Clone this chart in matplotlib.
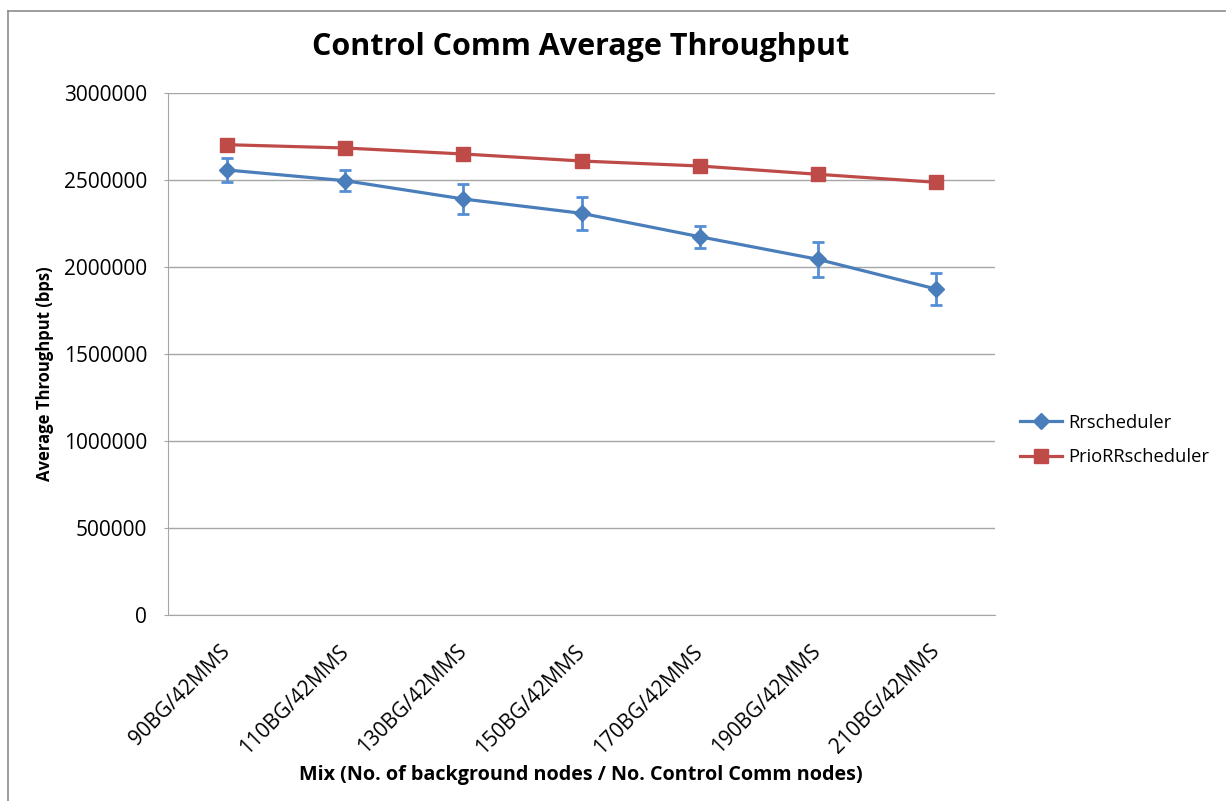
import matplotlib
matplotlib.use('Agg')
from matplotlib import pyplot as plt
from matplotlib.lines import Line2D

categories = ['90BG/42MMS', '110BG/42MMS', '130BG/42MMS', '150BG/42MMS',
              '170BG/42MMS', '190BG/42MMS', '210BG/42MMS']
rr_values = [2557500, 2496000, 2390800, 2308600, 2174100, 2044300, 1873600]
rr_errors = [71800, 61500, 84500, 93700, 63200, 100600, 90800]
prio_values = [2702900, 2683900, 2649400, 2609200, 2580500, 2532800, 2486800]
y_ticks = [0, 500000, 1000000, 1500000, 2000000, 2500000, 3000000]

blue = '#4A7EBB'
red = '#BE4B48'
grid_color = '#A6A6A6'

plt.rcParams['font.family'] = ['Open Sans', 'DejaVu Sans']

fig = plt.figure(figsize=(12.26, 8.01), dpi=100)
ax = fig.add_axes([168 / 1226, 1 - 615 / 801, (995 - 168) / 1226, (615 - 93) / 801])

x = list(range(len(categories)))
ax.errorbar(x, rr_values, yerr=rr_errors, fmt='none', ecolor='#558ED5',
            elinewidth=2, capsize=4, capthick=2, zorder=3)
rr_line, = ax.plot(x, rr_values, color=blue, lw=2.3, marker='D',
                   markersize=8, label='Rrscheduler', zorder=4)
prio_line, = ax.plot(x, prio_values, color=red, lw=2.3, marker='s',
                     markersize=9.5, label='PrioRRscheduler', zorder=4)

ax.set_xlim(-0.5, len(categories) - 0.5)
ax.set_ylim(0, 3000000)
ax.set_yticks(y_ticks)
ax.set_yticklabels([str(v) for v in y_ticks], fontsize=15)
ax.yaxis.grid(True, color=grid_color, lw=1)
ax.set_axisbelow(True)
ax.tick_params(axis='y', length=3, color=grid_color, pad=12)
ax.tick_params(axis='x', length=0, pad=24)
ax.set_xticks(x)
ax.set_xticklabels(categories, rotation=45, ha='right', va='center',
                   rotation_mode='anchor', fontsize=15)
for side in ['top', 'right']:
    ax.spines[side].set_visible(False)
for side in ['left', 'bottom']:
    ax.spines[side].set_color(grid_color)

fig.text(581 / 1226, 1 - 47 / 801, 'Control Comm Average Throughput',
         fontsize=22, fontweight='bold', ha='center', va='center')
fig.text(45 / 1226, 1 - 374 / 801, 'Average Throughput (bps)', rotation=90,
         fontsize=12, fontweight='bold', ha='center', va='center')
fig.text(581 / 1226, 1 - 775 / 801,
         'Mix (No. of background nodes / No. Control Comm nodes)',
         fontsize=14.2, fontweight='bold', ha='center', va='center')

fig.legend(handles=[rr_line, prio_line], loc='center left',
           bbox_to_anchor=(1020 / 1226, 1 - 440 / 801),
           frameon=False, fontsize=13.2, handlelength=2.3, labelspacing=0.9,
           handletextpad=0.33, borderpad=0, borderaxespad=0)

# chart border, only top and left edges are visible in the crop
fig.add_artist(Line2D([8 / 1226, 8 / 1226], [0, 1 - 11 / 801],
                      transform=fig.transFigure, color='#8C8C8C', lw=1.2))
fig.add_artist(Line2D([8 / 1226, 1], [1 - 11 / 801, 1 - 11 / 801],
                      transform=fig.transFigure, color='#8C8C8C', lw=1.2))

plt.savefig('out.png', dpi=100)
plt.close()
